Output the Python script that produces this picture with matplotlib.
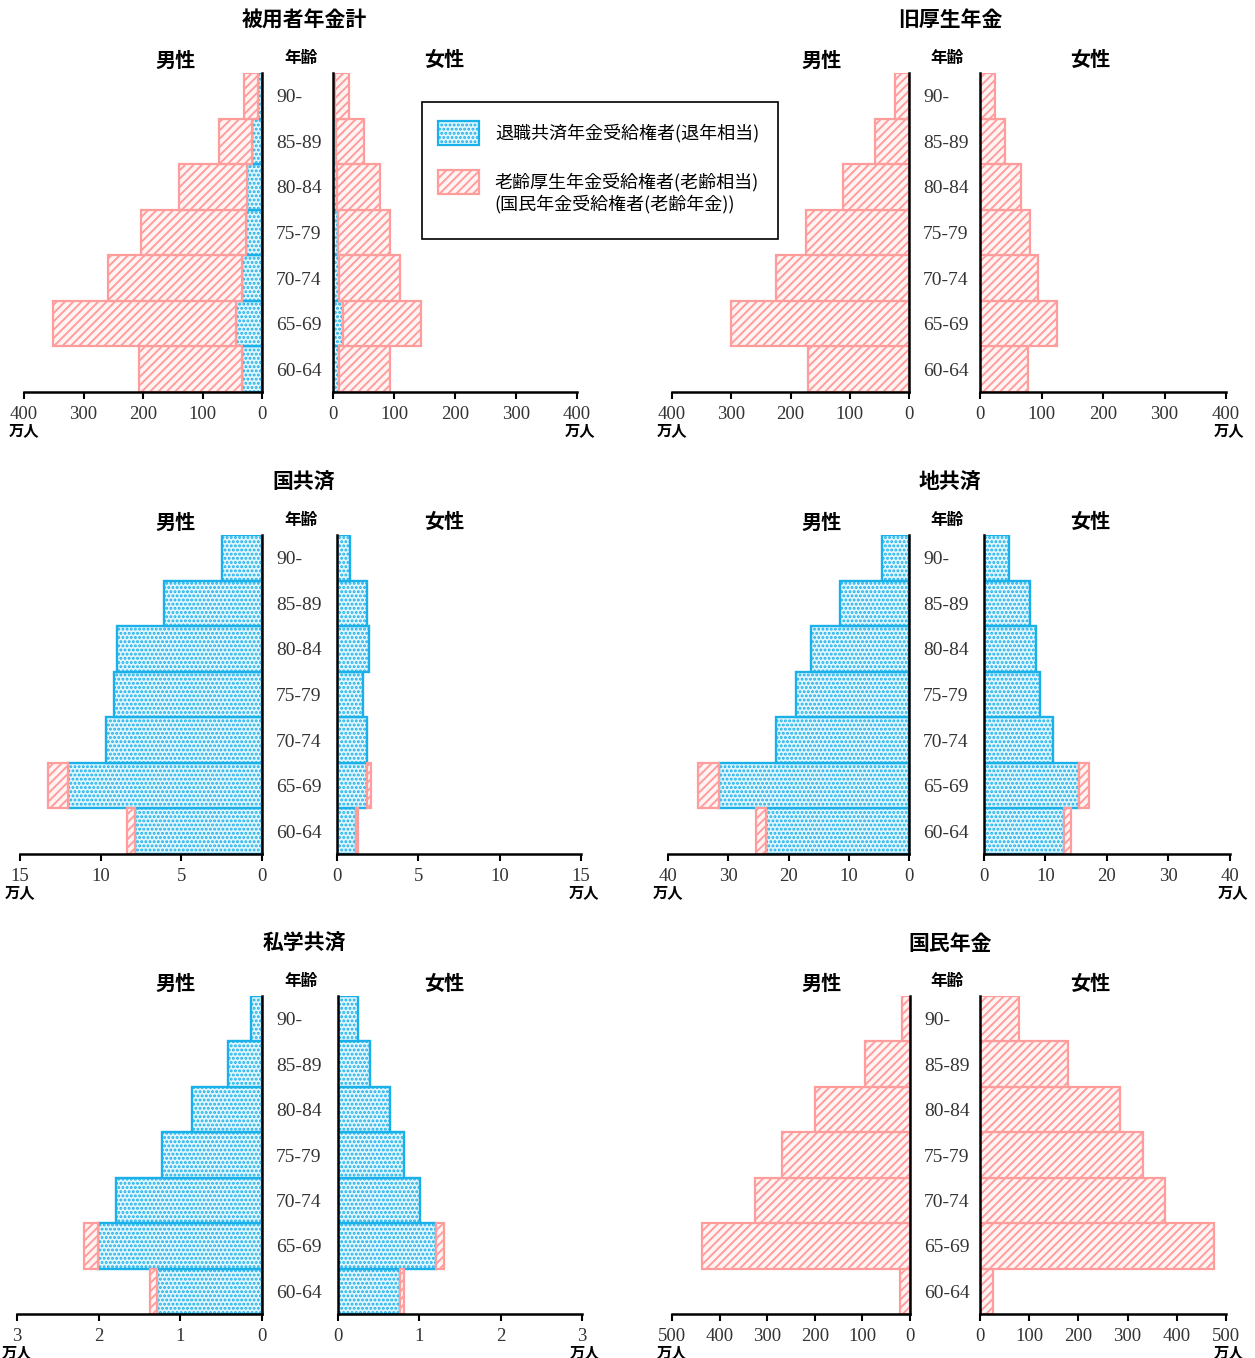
import matplotlib
matplotlib.use("Agg")
import matplotlib.pyplot as plt
from matplotlib.patches import Rectangle
from matplotlib.transforms import blended_transform_factory, offset_copy

plt.rcParams['hatch.linewidth'] = 1.4

CJK = ['Noto Sans CJK JP', 'DejaVu Sans']
SERIF = ['Liberation Serif', 'DejaVu Serif']

# ---------------- data ----------------
ages = ['60-64', '65-69', '70-74', '75-79', '80-84', '85-89', '90-']

titles = ['被用者年金計', '旧厚生年金', '国共済', '地共済', '私学共済', '国民年金']
xmax = [400, 400, 15, 40, 3, 500]
xstep = [100, 100, 5, 10, 1, 100]

# 被用者年金計
m_blue_1 = [33, 43, 33, 27, 25, 17, 7]
m_pink_1 = [174, 308, 226, 176, 114, 56, 23]
f_blue_1 = [10, 16, 10, 8, 7, 5, 3]
f_pink_1 = [83, 128, 100, 85, 70, 45, 23]
# 旧厚生年金
m_blue_2 = [0, 0, 0, 0, 0, 0, 0]
m_pink_2 = [171, 300, 225, 173, 112, 57, 23]
f_blue_2 = [0, 0, 0, 0, 0, 0, 0]
f_pink_2 = [78, 125, 95, 82, 66, 40, 24]
# 国共済
m_blue_3 = [7.9, 12.05, 9.7, 9.2, 9.0, 6.1, 2.5]
m_pink_3 = [0.45, 1.2, 0, 0, 0, 0, 0]
f_blue_3 = [1.14, 1.82, 1.82, 1.58, 1.94, 1.82, 0.82]
f_pink_3 = [0.15, 0.25, 0, 0, 0, 0, 0]
# 地共済
m_blue_4 = [23.7, 31.5, 22.1, 18.7, 16.3, 11.4, 4.4]
m_pink_4 = [1.7, 3.5, 0, 0, 0, 0, 0]
f_blue_4 = [13.0, 15.4, 11.3, 9.1, 8.5, 7.5, 4.0]
f_pink_4 = [1.1, 1.7, 0, 0, 0, 0, 0]
# 私学共済
m_blue_5 = [1.28, 2.01, 1.79, 1.23, 0.86, 0.42, 0.14]
m_pink_5 = [0.09, 0.17, 0, 0, 0, 0, 0]
f_blue_5 = [0.76, 1.20, 1.01, 0.81, 0.64, 0.39, 0.24]
f_pink_5 = [0.05, 0.10, 0, 0, 0, 0, 0]
# 国民年金
m_blue_6 = [0, 0, 0, 0, 0, 0, 0]
m_pink_6 = [22, 436, 326, 269, 199, 94, 17]
f_blue_6 = [0, 0, 0, 0, 0, 0, 0]
f_pink_6 = [26, 475, 376, 332, 285, 178, 79]

male_blue = [m_blue_1, m_blue_2, m_blue_3, m_blue_4, m_blue_5, m_blue_6]
male_pink = [m_pink_1, m_pink_2, m_pink_3, m_pink_4, m_pink_5, m_pink_6]
fem_blue = [f_blue_1, f_blue_2, f_blue_3, f_blue_4, f_blue_5, f_blue_6]
fem_pink = [f_pink_1, f_pink_2, f_pink_3, f_pink_4, f_pink_5, f_pink_6]

legend_labels = ['退職共済年金受給権者(退年相当)',
                 '老齢厚生年金受給権者(老齢相当)\n(国民年金受給権者(老齢年金))']

# ---------------- layout (pixels) ----------------
W, H = 1255, 1358
fig = plt.figure(figsize=(W / 100, H / 100), dpi=100)

rows = [(73, 392), (535, 854), (996, 1314)]
# (male_left, male_right, female_left, female_right) per panel
cols = [
    (24, 262, 333, 577), (672, 909, 980, 1226),
    (20, 262, 337, 581), (668, 909, 984, 1230),
    (17, 262, 338, 582), (672, 910, 980, 1226),
]
centers = [304, 950]

BLUE_E = '#1AB0EA'
BLUE_F = '#E2F6FD'
PINK_E = '#FF9C9C'
PINK_F = '#FFF4F4'


def ax_at(x0, x1, y0, y1):
    return fig.add_axes([x0 / W, 1 - y1 / H, (x1 - x0) / W, (y1 - y0) / H])


def style(ax, side):
    for s in ['top', 'left', 'right']:
        ax.spines[s].set_visible(False)
    ax.spines['bottom'].set_linewidth(1.8)
    ax.spines[side].set_visible(True)
    ax.spines[side].set_linewidth(1.8)
    ax.set_yticks([])
    ax.tick_params(axis='x', direction='out', length=5, width=1.5, pad=5)
    for lab in ax.get_xticklabels():
        lab.set_family(SERIF)
        lab.set_fontsize(13.5)
        lab.set_color('#333333')
    ax.set_ylim(-0.5, 6.5)
    ax.patch.set_alpha(0)


def draw_bars(ax, blue, pink):
    y = list(range(len(ages)))
    b_idx = [i for i in y if blue[i] > 0]
    if b_idx:
        ax.barh([y[i] for i in b_idx], [blue[i] for i in b_idx], height=1.0,
                color=BLUE_F, edgecolor=BLUE_E, hatch='....', linewidth=1.7, zorder=2)
    p_idx = [i for i in y if pink[i] > 0]
    if p_idx:
        ax.barh([y[i] for i in p_idx], [pink[i] for i in p_idx],
                left=[blue[i] for i in p_idx], height=1.0,
                color=PINK_F, edgecolor=PINK_E, hatch='////', linewidth=1.6, zorder=2)


for k in range(6):
    r, c = divmod(k, 2)
    y0, y1 = rows[r]
    ml, mr, fl, fr = cols[k]
    cx = centers[c]
    ticks = list(range(0, xmax[k] + 1, xstep[k]))

    axm = ax_at(ml, mr, y0, y1)
    draw_bars(axm, male_blue[k], male_pink[k])
    axm.set_xlim(xmax[k], 0)
    axm.set_xticks(ticks)
    axm.set_xticklabels([str(t) for t in ticks])
    style(axm, 'right')

    axf = ax_at(fl, fr, y0, y1)
    draw_bars(axf, fem_blue[k], fem_pink[k])
    axf.set_xlim(0, xmax[k])
    axf.set_xticks(ticks)
    axf.set_xticklabels([str(t) for t in ticks])
    style(axf, 'left')

    # age labels
    tr = blended_transform_factory(fig.transFigure, axm.transData)
    tr = offset_copy(tr, fig=fig, x=0, y=-2, units='dots')
    for i, a in enumerate(ages):
        fig.text((mr + 14) / W, i, a, transform=tr, ha='left', va='center',
                 family=SERIF, fontsize=14, color='#333333')

    # titles and headers
    fig.text(cx / W, 1 - (y0 - 53) / H, titles[k], ha='center', va='center',
             family=CJK, fontsize=15, fontweight='bold')
    fig.text((cx - 128) / W, 1 - (y0 - 13) / H, '男性', ha='center', va='center',
             family=CJK, fontsize=14.5, fontweight='bold')
    fig.text((cx + 140) / W, 1 - (y0 - 13) / H, '女性', ha='center', va='center',
             family=CJK, fontsize=14.5, fontweight='bold')
    fig.text((cx - 3) / W, 1 - (y0 - 15) / H, '年齢', ha='center', va='center',
             family=CJK, fontsize=12, fontweight='bold')
    # units
    fig.text(ml / W, 1 - (y1 + 38) / H, '万人', ha='center', va='center',
             family=CJK, fontsize=11, fontweight='bold')
    fig.text((fr + 3) / W, 1 - (y1 + 38) / H, '万人', ha='center', va='center',
             family=CJK, fontsize=11, fontweight='bold')

# ---------------- legend ----------------
def frect(x0, y0, x1, y1, **kw):
    p = Rectangle((x0 / W, 1 - y1 / H), (x1 - x0) / W, (y1 - y0) / H,
                  transform=fig.transFigure, **kw)
    fig.patches.append(p)

frect(422, 102, 778, 239, facecolor='white', edgecolor='black', linewidth=1.2)
frect(438, 121, 479, 145, facecolor=BLUE_F, edgecolor=BLUE_E, hatch='....', linewidth=1.6)
frect(438, 170, 479, 194, facecolor=PINK_F, edgecolor=PINK_E, hatch='////', linewidth=1.6)
fig.text(495 / W, 1 - 133 / H, legend_labels[0], ha='left', va='center',
         family=CJK, fontsize=13)
fig.text(494 / W, 1 - 193 / H, legend_labels[1], ha='left', va='center',
         family=CJK, fontsize=13, linespacing=1.25)

fig.savefig('out.png', dpi=100)
